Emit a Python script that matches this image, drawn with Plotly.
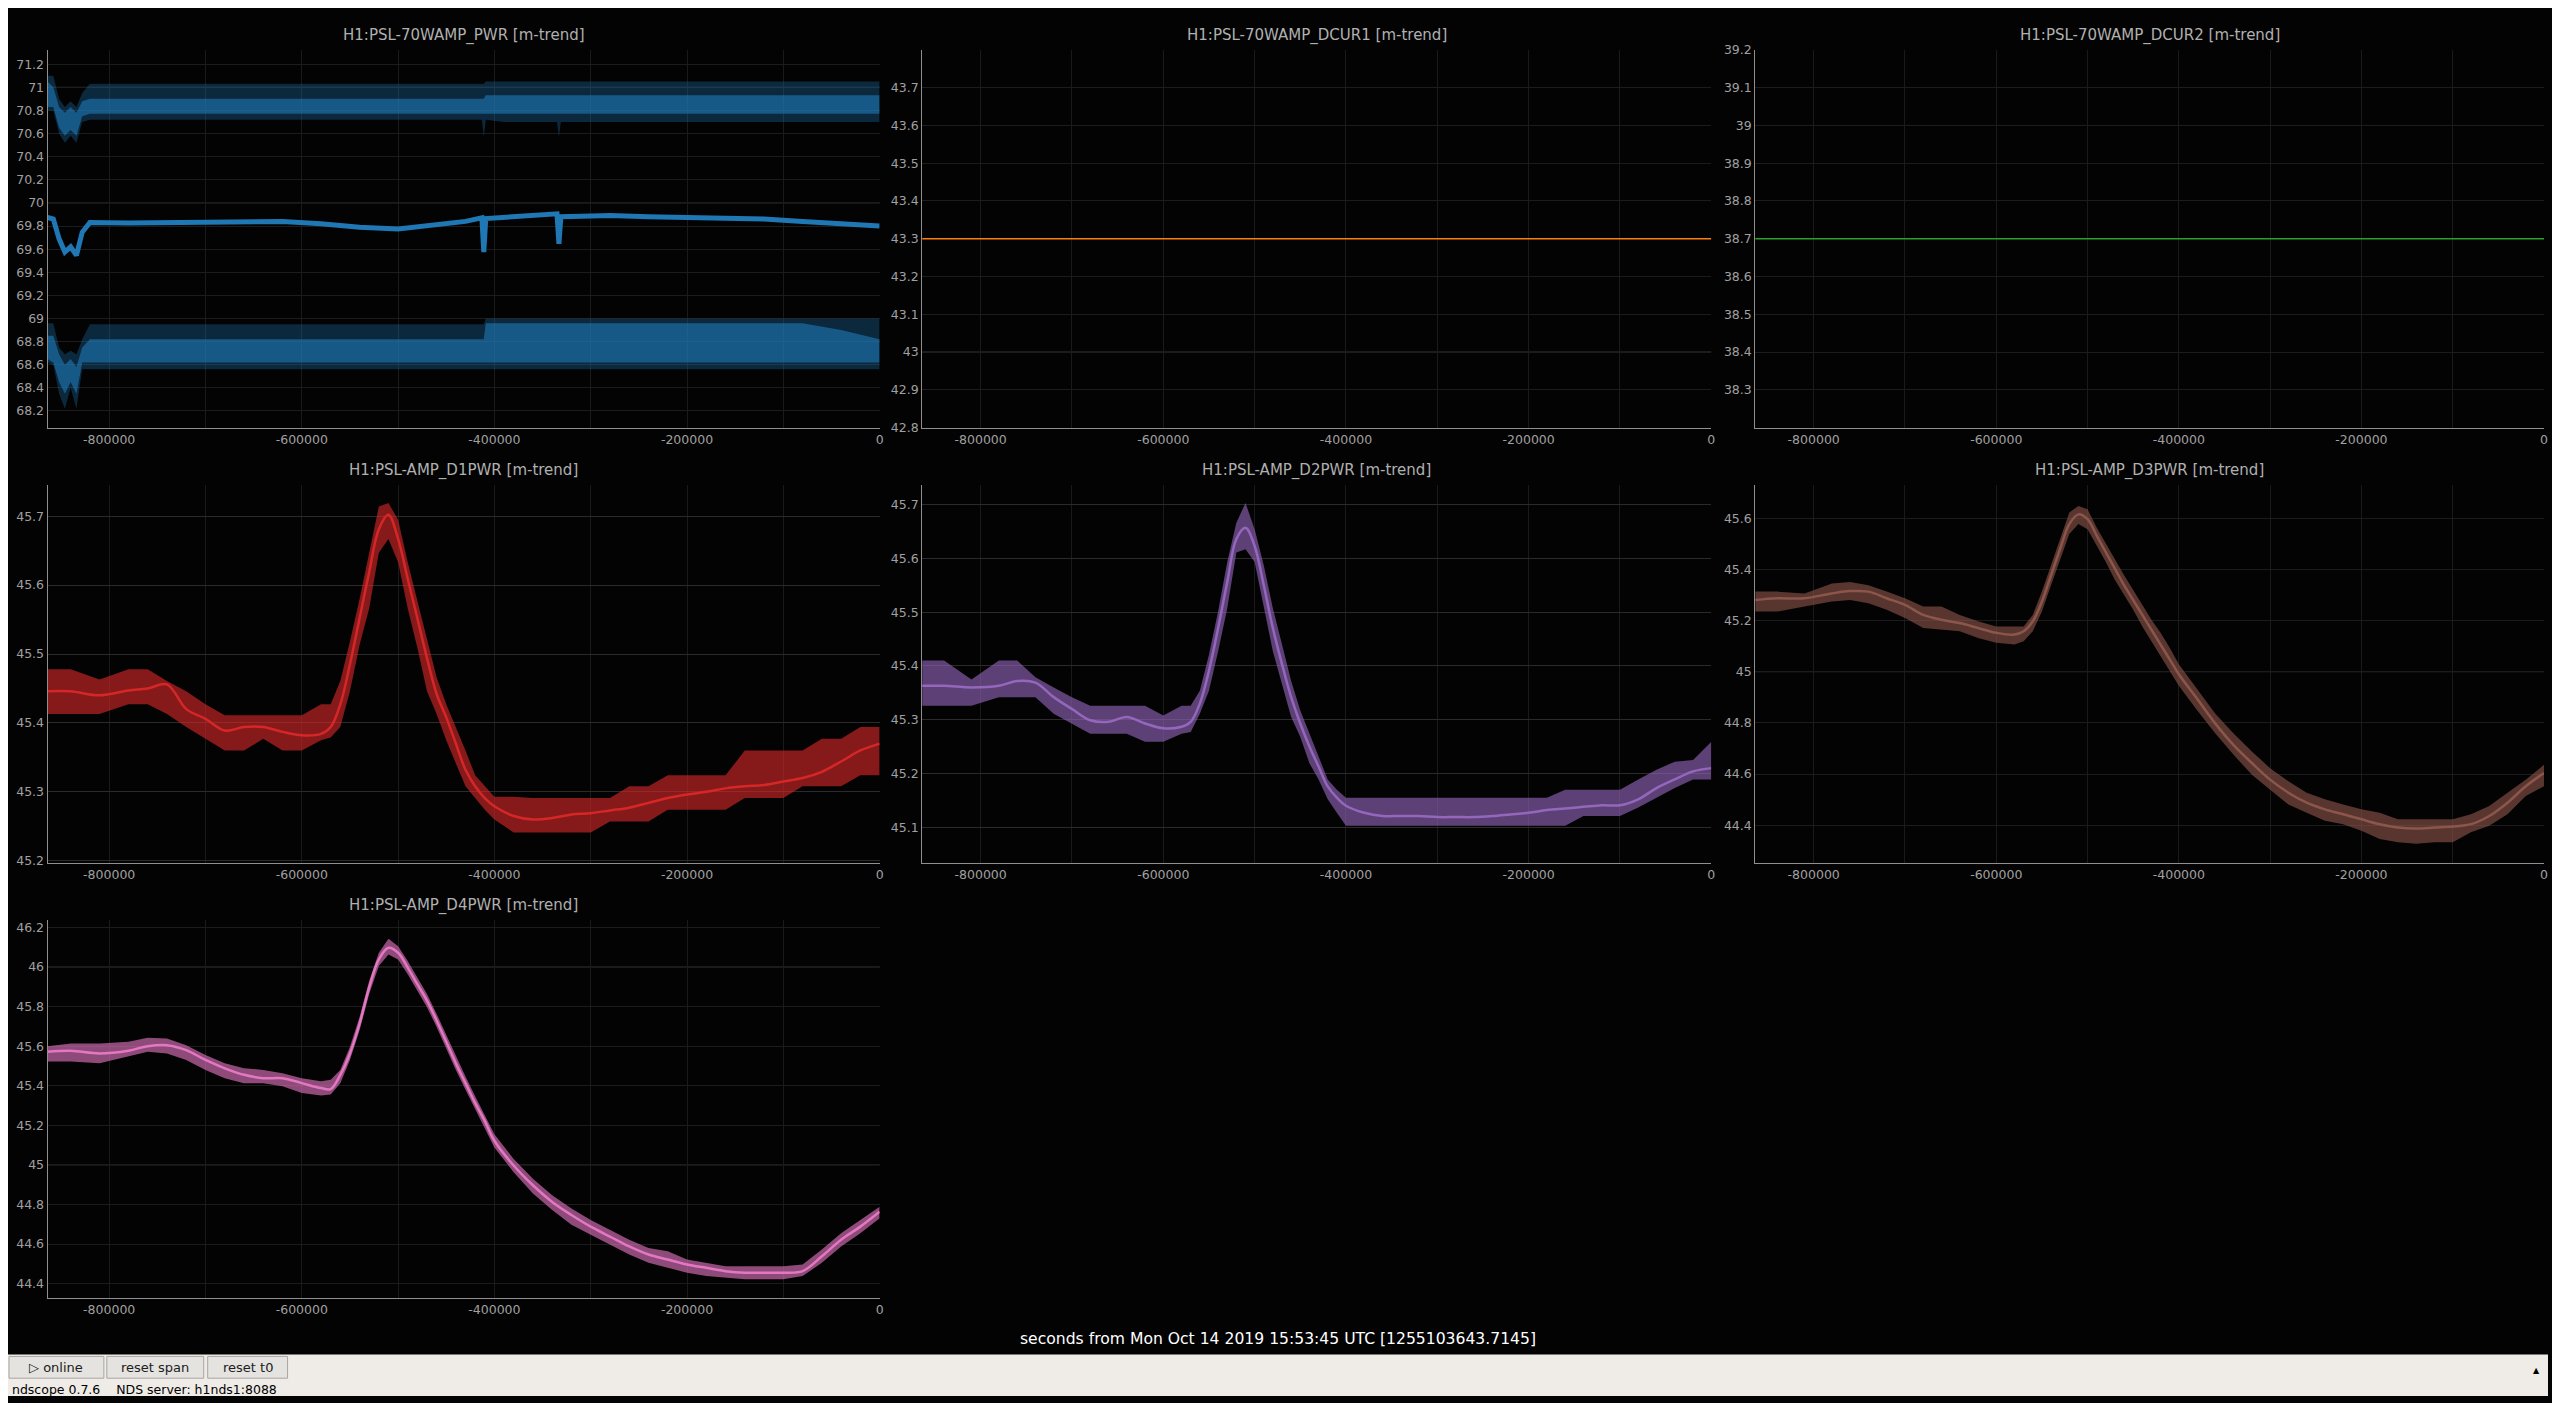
import plotly.graph_objects as go

# ---- data ----
panel_titles = [
    "H1:PSL-70WAMP_PWR [m-trend]",
    "H1:PSL-70WAMP_DCUR1 [m-trend]",
    "H1:PSL-70WAMP_DCUR2 [m-trend]",
    "H1:PSL-AMP_D1PWR [m-trend]",
    "H1:PSL-AMP_D2PWR [m-trend]",
    "H1:PSL-AMP_D3PWR [m-trend]",
    "H1:PSL-AMP_D4PWR [m-trend]",
]
x_title = "seconds from Mon Oct 14 2019 15:53:45 UTC [1255103643.7145]"
x_tickvals = [-800000, -600000, -400000, -200000, 0]
x_ticktext = ["-800000", "-600000", "-400000", "-200000", "0"]

y_ticks = [
    ["68.2", "68.4", "68.6", "68.8", "69", "69.2", "69.4", "69.6", "69.8", "70",
     "70.2", "70.4", "70.6", "70.8", "71", "71.2"],
    ["42.8", "42.9", "43", "43.1", "43.2", "43.3", "43.4", "43.5", "43.6", "43.7"],
    ["38.3", "38.4", "38.5", "38.6", "38.7", "38.8", "38.9", "39", "39.1", "39.2"],
    ["45.2", "45.3", "45.4", "45.5", "45.6", "45.7"],
    ["45.1", "45.2", "45.3", "45.4", "45.5", "45.6", "45.7"],
    ["44.4", "44.6", "44.8", "45", "45.2", "45.4", "45.6"],
    ["44.4", "44.6", "44.8", "45", "45.2", "45.4", "45.6", "45.8", "46", "46.2"],
]

# PWR panel: max / mean / min trends
pwr_x = [-864000, -858000, -852000, -846000, -840000, -834000, -828000, -820000,
         -780000, -740000, -700000, -660000, -620000, -580000, -540000, -500000,
         -460000, -430000, -413000, -411000, -409000, -390000, -360000, -335000,
         -333000, -331000, -310000, -280000, -240000, -200000, -160000, -120000,
         -80000, -40000, 0]
pwr_mean = [69.874, 69.860, 69.689, 69.575, 69.620, 69.546, 69.746, 69.831,
            69.825, 69.830, 69.835, 69.837, 69.840, 69.820, 69.790, 69.775,
            69.810, 69.840, 69.870, 69.575, 69.865, 69.875, 69.890, 69.905,
            69.646, 69.880, 69.885, 69.890, 69.880, 69.875, 69.870, 69.860,
            69.840, 69.820, 69.800]
pwr_max_top = [71.10, 71.10, 70.90, 70.83, 70.88, 70.83, 70.95, 71.03,
               71.03, 71.03, 71.03, 71.03, 71.03, 71.03, 71.03, 71.03,
               71.03, 71.03, 71.03, 71.03, 71.05, 71.05, 71.05, 71.05,
               71.05, 71.05, 71.05, 71.05, 71.05, 71.05, 71.05, 71.05,
               71.05, 71.05, 71.05]
pwr_max_bot = [70.80, 70.80, 70.60, 70.52, 70.58, 70.52, 70.70, 70.72,
               70.72, 70.72, 70.72, 70.72, 70.72, 70.72, 70.72, 70.72,
               70.72, 70.72, 70.72, 70.57, 70.72, 70.70, 70.70, 70.70,
               70.57, 70.70, 70.70, 70.70, 70.70, 70.70, 70.70, 70.70,
               70.70, 70.70, 70.70]
pwr_max_core_top = [71.05, 71.00, 70.83, 70.78, 70.83, 70.78, 70.88, 70.90,
                    70.90, 70.90, 70.90, 70.90, 70.90, 70.90, 70.90, 70.90,
                    70.90, 70.90, 70.90, 70.90, 70.93, 70.93, 70.93, 70.93,
                    70.93, 70.93, 70.93, 70.93, 70.93, 70.93, 70.93, 70.93,
                    70.93, 70.93, 70.93]
pwr_max_core_bot = [70.83, 70.83, 70.65, 70.58, 70.63, 70.58, 70.75, 70.77,
                    70.77, 70.77, 70.77, 70.77, 70.77, 70.77, 70.77, 70.77,
                    70.77, 70.77, 70.77, 70.77, 70.77, 70.77, 70.77, 70.77,
                    70.77, 70.77, 70.77, 70.77, 70.77, 70.77, 70.77, 70.77,
                    70.77, 70.77, 70.77]
pwr_min_top = [68.96, 68.96, 68.75, 68.69, 68.72, 68.69, 68.82, 68.95,
               68.95, 68.95, 68.95, 68.95, 68.95, 68.95, 68.95, 68.95,
               68.95, 68.95, 68.95, 68.95, 69.00, 69.00, 69.00, 69.00,
               69.00, 69.00, 69.00, 69.00, 69.00, 69.00, 69.00, 69.00,
               69.00, 69.00, 69.00]
pwr_min_bot = [68.62, 68.60, 68.35, 68.22, 68.40, 68.22, 68.56, 68.56,
               68.56, 68.56, 68.56, 68.56, 68.56, 68.56, 68.56, 68.56,
               68.56, 68.56, 68.56, 68.56, 68.56, 68.56, 68.56, 68.56,
               68.56, 68.56, 68.56, 68.56, 68.56, 68.56, 68.56, 68.56,
               68.56, 68.56, 68.56]
pwr_min_core_top = [68.85, 68.85, 68.69, 68.60, 68.65, 68.58, 68.75, 68.82,
                    68.82, 68.82, 68.82, 68.82, 68.82, 68.82, 68.82, 68.82,
                    68.82, 68.82, 68.82, 68.82, 68.96, 68.96, 68.96, 68.96,
                    68.96, 68.96, 68.96, 68.96, 68.96, 68.96, 68.96, 68.96,
                    68.96, 68.90, 68.82]
pwr_min_core_bot = [68.65, 68.62, 68.45, 68.35, 68.45, 68.35, 68.62, 68.62,
                    68.62, 68.62, 68.62, 68.62, 68.62, 68.62, 68.62, 68.62,
                    68.62, 68.62, 68.62, 68.62, 68.62, 68.62, 68.62, 68.62,
                    68.62, 68.62, 68.62, 68.62, 68.62, 68.62, 68.62, 68.62,
                    68.62, 68.62, 68.62]

# DCUR panels are flat
dcur_x = [-864000, 0]
dcur1 = [43.3, 43.3]
dcur2 = [38.7, 38.7]

# diode power panels: mean, max, min
d_x = [-864000, -840000, -810000, -780000, -760000, -740000, -720000, -700000,
       -680000, -660000, -640000, -620000, -600000, -580000, -570000, -560000,
       -550000, -540000, -530000, -520000, -510000, -500000, -490000, -480000,
       -470000, -460000, -450000, -440000, -430000, -420000, -410000, -400000,
       -380000, -360000, -340000, -320000, -300000, -280000, -260000, -240000,
       -220000, -200000, -180000, -160000, -140000, -120000, -100000, -80000,
       -60000, -40000, -20000, 0]

d1_mean = [45.446, 45.446, 45.440, 45.447, 45.450, 45.456, 45.420, 45.406,
           45.389, 45.394, 45.394, 45.387, 45.382, 45.384, 45.394, 45.427,
           45.485, 45.552, 45.619, 45.681, 45.702, 45.667, 45.609, 45.552,
           45.494, 45.442, 45.408, 45.370, 45.332, 45.308, 45.291, 45.279,
           45.265, 45.260, 45.262, 45.267, 45.269, 45.273, 45.277, 45.284,
           45.291, 45.296, 45.300, 45.305, 45.308, 45.310, 45.315, 45.320,
           45.329, 45.344, 45.360, 45.370]
d1_max = [45.478, 45.478, 45.463, 45.478, 45.478, 45.461, 45.446, 45.427,
          45.411, 45.411, 45.411, 45.411, 45.411, 45.427, 45.427, 45.461,
          45.518, 45.580, 45.647, 45.714, 45.719, 45.695, 45.633, 45.576,
          45.523, 45.466, 45.427, 45.394, 45.360, 45.324, 45.308, 45.293,
          45.293, 45.291, 45.291, 45.291, 45.291, 45.291, 45.308, 45.308,
          45.324, 45.324, 45.324, 45.324, 45.360, 45.360, 45.360, 45.360,
          45.377, 45.377, 45.394, 45.394]
d1_min = [45.413, 45.413, 45.413, 45.427, 45.427, 45.413, 45.394, 45.377,
          45.360, 45.360, 45.377, 45.360, 45.360, 45.375, 45.379, 45.394,
          45.446, 45.513, 45.566, 45.647, 45.667, 45.633, 45.566, 45.509,
          45.446, 45.413, 45.375, 45.341, 45.308, 45.291, 45.274, 45.260,
          45.241, 45.241, 45.241, 45.241, 45.241, 45.257, 45.257, 45.257,
          45.274, 45.274, 45.274, 45.274, 45.291, 45.291, 45.291, 45.308,
          45.308, 45.308, 45.324, 45.324]

d2_mean = [45.363, 45.363, 45.360, 45.363, 45.372, 45.369, 45.342, 45.320,
           45.299, 45.296, 45.305, 45.293, 45.284, 45.287, 45.296, 45.330,
           45.391, 45.470, 45.556, 45.636, 45.657, 45.623, 45.550, 45.470,
           45.403, 45.342, 45.293, 45.250, 45.213, 45.176, 45.155, 45.140,
           45.127, 45.121, 45.121, 45.121, 45.119, 45.119, 45.119, 45.121,
           45.124, 45.127, 45.132, 45.135, 45.138, 45.141, 45.141, 45.152,
           45.173, 45.189, 45.204, 45.210]
d2_max = [45.410, 45.410, 45.375, 45.410, 45.410, 45.379, 45.360, 45.342,
          45.326, 45.326, 45.326, 45.326, 45.308, 45.326, 45.326, 45.354,
          45.421, 45.501, 45.593, 45.666, 45.703, 45.654, 45.587, 45.507,
          45.440, 45.372, 45.317, 45.274, 45.232, 45.189, 45.170, 45.155,
          45.155, 45.155, 45.155, 45.155, 45.155, 45.155, 45.155, 45.155,
          45.155, 45.155, 45.155, 45.170, 45.170, 45.170, 45.170, 45.189,
          45.207, 45.222, 45.225, 45.259]
d2_min = [45.326, 45.326, 45.326, 45.342, 45.342, 45.342, 45.311, 45.293,
          45.274, 45.274, 45.274, 45.259, 45.259, 45.274, 45.277, 45.311,
          45.354, 45.427, 45.507, 45.611, 45.617, 45.593, 45.507, 45.427,
          45.366, 45.305, 45.268, 45.219, 45.189, 45.152, 45.127, 45.103,
          45.103, 45.103, 45.103, 45.103, 45.103, 45.103, 45.103, 45.103,
          45.103, 45.103, 45.103, 45.103, 45.121, 45.121, 45.121, 45.137,
          45.155, 45.173, 45.189, 45.189]

d3_mean = [45.280, 45.287, 45.287, 45.306, 45.315, 45.313, 45.287, 45.261,
           45.222, 45.203, 45.190, 45.171, 45.152, 45.145, 45.158, 45.197,
           45.274, 45.377, 45.480, 45.577, 45.615, 45.596, 45.532, 45.467,
           45.403, 45.338, 45.280, 45.222, 45.164, 45.106, 45.048, 44.990,
           44.894, 44.797, 44.713, 44.643, 44.578, 44.527, 44.488, 44.462,
           44.443, 44.423, 44.404, 44.391, 44.387, 44.391, 44.395, 44.404,
           44.436, 44.488, 44.552, 44.604]
d3_max = [45.313, 45.313, 45.306, 45.345, 45.351, 45.338, 45.313, 45.287,
          45.255, 45.255, 45.222, 45.197, 45.177, 45.177, 45.177, 45.222,
          45.313, 45.416, 45.519, 45.622, 45.648, 45.635, 45.564, 45.500,
          45.442, 45.377, 45.319, 45.261, 45.203, 45.152, 45.094, 45.029,
          44.932, 44.836, 44.758, 44.688, 44.623, 44.572, 44.527, 44.501,
          44.481, 44.462, 44.449, 44.423, 44.423, 44.423, 44.423, 44.443,
          44.475, 44.527, 44.578, 44.636]
d3_min = [45.235, 45.235, 45.255, 45.274, 45.280, 45.268, 45.242, 45.210,
          45.171, 45.164, 45.158, 45.132, 45.113, 45.106, 45.119, 45.158,
          45.235, 45.338, 45.442, 45.538, 45.577, 45.557, 45.493, 45.429,
          45.358, 45.300, 45.242, 45.177, 45.119, 45.061, 45.003, 44.945,
          44.849, 44.758, 44.675, 44.597, 44.539, 44.481, 44.449, 44.417,
          44.404, 44.378, 44.346, 44.333, 44.327, 44.333, 44.333, 44.372,
          44.398, 44.443, 44.514, 44.552]

d4_mean = [45.572, 45.577, 45.563, 45.577, 45.600, 45.605, 45.580, 45.530,
           45.488, 45.455, 45.438, 45.438, 45.413, 45.388, 45.383, 45.455,
           45.563, 45.713, 45.897, 46.038, 46.097, 46.072, 45.997, 45.913,
           45.830, 45.730, 45.622, 45.513, 45.413, 45.313, 45.222, 45.122,
           44.997, 44.897, 44.813, 44.747, 44.688, 44.638, 44.588, 44.547,
           44.522, 44.497, 44.480, 44.463, 44.455, 44.455, 44.455, 44.463,
           44.538, 44.622, 44.688, 44.763]
d4_max = [45.600, 45.613, 45.613, 45.622, 45.643, 45.638, 45.605, 45.555,
          45.513, 45.488, 45.480, 45.463, 45.438, 45.422, 45.430, 45.480,
          45.597, 45.747, 45.930, 46.072, 46.143, 46.105, 46.030, 45.947,
          45.863, 45.763, 45.655, 45.547, 45.447, 45.347, 45.255, 45.155,
          45.030, 44.930, 44.847, 44.780, 44.722, 44.672, 44.622, 44.580,
          44.563, 44.522, 44.505, 44.488, 44.488, 44.488, 44.488, 44.497,
          44.572, 44.655, 44.722, 44.788]
d4_min = [45.522, 45.522, 45.513, 45.547, 45.572, 45.563, 45.530, 45.480,
          45.438, 45.413, 45.413, 45.397, 45.363, 45.350, 45.355, 45.413,
          45.530, 45.680, 45.863, 46.005, 46.063, 46.038, 45.963, 45.880,
          45.797, 45.697, 45.588, 45.480, 45.380, 45.280, 45.188, 45.088,
          44.963, 44.855, 44.772, 44.697, 44.647, 44.597, 44.547, 44.505,
          44.480, 44.455, 44.438, 44.430, 44.422, 44.422, 44.422, 44.438,
          44.505, 44.588, 44.655, 44.730]

# ---- layout geometry / style ----
# the page body keeps its 8px margin, so the figure is 16px smaller than the
# window and every window pixel position is shifted by OFF
OFF = 8
W, H = 2560 - 2 * OFF, 1411 - 2 * OFF
FONT = "DejaVu Sans"
colors = ["#1f77b4", "#ff7f0e", "#2ca02c", "#d62728", "#9467bd", "#8c564b", "#e377c2"]

col_dom = [(47.6, 881), (923.6, 1714), (1758, 2548)]
row_dom = [(42.3, 424), (482.3, 864), (922.3, 1304)]
place = [(0, 0), (0, 1), (0, 2), (1, 0), (1, 1), (1, 2), (2, 0)]
y_ranges = [[68.057, 71.323], [42.8, 43.8], [38.2, 39.2], [45.197, 45.745],
            [45.034, 45.736], [44.253, 45.729], [44.327, 46.235]]
bright_lines = [[69, 70, 71], [43], [39], [], [], [45], [45, 46]]


def px(X):
    return (X - OFF) / W


def py(Y):
    return 1 - (Y - OFF) / H


def rgba(hexc, a):
    h = hexc.lstrip("#")
    return "rgba(%d,%d,%d,%s)" % (int(h[0:2], 16), int(h[2:4], 16), int(h[4:6], 16), a)


def ax(k):
    return ("x" if k == 1 else "x%d" % k), ("y" if k == 1 else "y%d" % k)


fig = go.Figure()


def band(k, xs, top, bot, color, alpha):
    xa, ya = ax(k)
    fig.add_trace(go.Scatter(x=xs, y=top, mode="lines", line=dict(width=0),
                             xaxis=xa, yaxis=ya, hoverinfo="skip", showlegend=False))
    fig.add_trace(go.Scatter(x=xs, y=bot, mode="lines", line=dict(width=0),
                             fill="tonexty", fillcolor=rgba(color, alpha),
                             xaxis=xa, yaxis=ya, hoverinfo="skip", showlegend=False))


def line(k, xs, ys, color, width, shape="linear"):
    xa, ya = ax(k)
    fig.add_trace(go.Scatter(x=xs, y=ys, mode="lines",
                             line=dict(color=color, width=width, shape=shape),
                             xaxis=xa, yaxis=ya, hoverinfo="skip", showlegend=False))


# panel 1
band(1, pwr_x, pwr_max_top, pwr_max_bot, colors[0], 0.32)
band(1, pwr_x, pwr_max_core_top, pwr_max_core_bot, colors[0], 0.62)
band(1, pwr_x, pwr_min_top, pwr_min_bot, colors[0], 0.32)
band(1, pwr_x, pwr_min_core_top, pwr_min_core_bot, colors[0], 0.62)
line(1, pwr_x, pwr_mean, colors[0], 5)

# panels 2, 3
line(2, dcur_x, dcur1, colors[1], 1.5)
line(3, dcur_x, dcur2, colors[2], 1.5)

# panels 4-7
for k, (mn, mx, lo) in zip([4, 5, 6, 7], [(d1_mean, d1_max, d1_min), (d2_mean, d2_max, d2_min),
                                          (d3_mean, d3_max, d3_min), (d4_mean, d4_max, d4_min)]):
    band(k, d_x, mx, lo, colors[k - 1], 0.62)
    line(k, d_x, mn, colors[k - 1], 2.5, "spline")

layout = dict(
    width=W, height=H, margin=dict(l=0, r=0, t=0, b=0),
    paper_bgcolor="#030303", plot_bgcolor="#030303",
    showlegend=False, hovermode=False, dragmode=False,
    font=dict(family=FONT, color="#a0a0a0", size=12.5),
)
annotations = []
shapes = []
for k in range(1, 8):
    r, c = place[k - 1]
    x0, x1 = col_dom[c]
    t, b = row_dom[r]
    xa, ya = ax(k)
    xname = "xaxis" if k == 1 else "xaxis%d" % k
    yname = "yaxis" if k == 1 else "yaxis%d" % k
    grid = "#2b2b2b" if k in (4, 5) else "#1c1c1c"
    layout[xname] = dict(
        domain=[px(x0), px(x1)], anchor=ya, range=[-864000, 0],
        tickvals=x_tickvals, ticktext=x_ticktext, ticks="",
        showgrid=True, gridcolor="#1a1a1a", zeroline=False,
        minor=dict(dtick=100000, tick0=0, showgrid=True, gridcolor="#1a1a1a"),
        showline=True, linecolor="#8f8f8f", linewidth=1,
        tickfont=dict(family=FONT, size=12.5, color="#a0a0a0"), fixedrange=True,
    )
    layout[yname] = dict(
        domain=[py(b), py(t)], anchor=xa, range=y_ranges[k - 1],
        tickvals=[float(v) for v in y_ticks[k - 1]], ticktext=y_ticks[k - 1], ticks="",
        showgrid=True, gridcolor=grid, zeroline=False,
        showline=True, linecolor="#8f8f8f", linewidth=1,
        tickfont=dict(family=FONT, size=12.5, color="#a0a0a0"), fixedrange=True,
    )
    for v in bright_lines[k - 1]:
        shapes.append(dict(type="line", xref="%s domain" % xa, yref=ya, x0=0, x1=1,
                           y0=v, y1=v, line=dict(color="#363636", width=1), layer="below"))
    annotations.append(dict(text=panel_titles[k - 1], xref="paper", yref="paper",
                            x=px((x0 + x1) / 2), y=py(t - 15), showarrow=False,
                            xanchor="center", yanchor="middle",
                            font=dict(family=FONT, size=15, color="#b0b0b0")))

# x axis title
annotations.append(dict(text=x_title, xref="paper", yref="paper", x=px(1280), y=py(1345),
                        showarrow=False, xanchor="center", yanchor="middle",
                        font=dict(family=FONT, size=15.6, color="#ffffff")))

# window chrome: toolbar, buttons, status line
shapes.append(dict(type="rect", xref="paper", yref="paper", x0=0, x1=1, y0=0, y1=py(1361),
                   fillcolor="#efebe7", line=dict(width=0)))
buttons = [("\u25b7 online", 9, 104), ("reset span", 107, 204), ("reset t0", 208, 288)]
for label, bx0, bx1 in buttons:
    shapes.append(dict(type="rect", xref="paper", yref="paper", x0=px(bx0), x1=px(bx1),
                       y0=py(1385), y1=py(1363), fillcolor="#e5e3e0",
                       line=dict(color="#a9a6a2", width=1)))
    annotations.append(dict(text=label, xref="paper", yref="paper", x=px((bx0 + bx1) / 2),
                            y=py(1374), showarrow=False, xanchor="center", yanchor="middle",
                            font=dict(family=FONT, size=13, color="#202020")))
annotations.append(dict(text="ndscope 0.7.6&nbsp;&nbsp;&nbsp;&nbsp;NDS server: h1nds1:8088",
                        xref="paper", yref="paper", x=px(10), y=py(1396), showarrow=False,
                        xanchor="left", yanchor="middle",
                        font=dict(family=FONT, size=12.5, color="#000000")))
annotations.append(dict(text="\u25b2", xref="paper", yref="paper", x=px(2540), y=py(1377),
                        showarrow=False, xanchor="center", yanchor="middle",
                        font=dict(family=FONT, size=8, color="#000000")))

layout["annotations"] = annotations
layout["shapes"] = shapes
fig.update_layout(**layout)

fig.write_html("out.html", config={"displayModeBar": False})
